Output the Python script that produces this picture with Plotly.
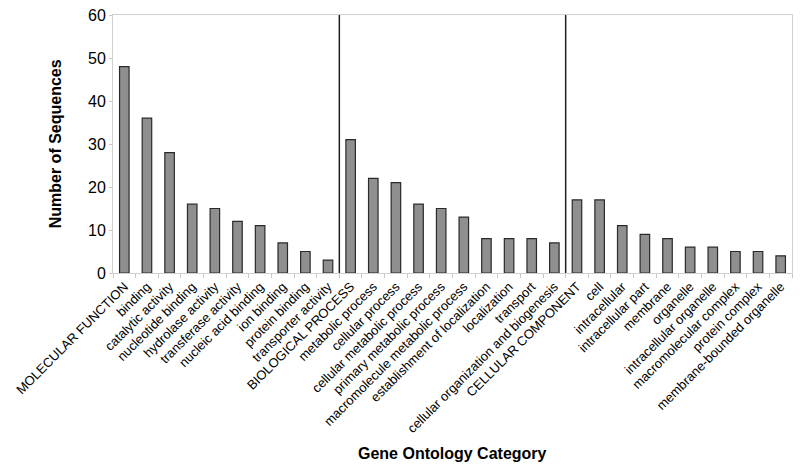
import plotly.graph_objects as go

categories = [
    "MOLECULAR FUNCTION", "binding", "catalytic activity", "nucleotide binding",
    "hydrolase activity", "transferase activity", "nucleic acid binding",
    "ion binding", "protein binding", "transporter activity",
    "BIOLOGICAL PROCESS", "metabolic process", "cellular process",
    "cellular metabolic process", "primary metabolic process",
    "macromolecule metabolic process", "establishment of localization",
    "localization", "transport", "cellular organization and biogenesis",
    "CELLULAR COMPONENT", "cell", "intracellular", "intracellular part",
    "membrane", "organelle", "intracellular organelle",
    "macromolecular complex", "protein complex", "membrane-bounded organelle",
]
values = [48, 36, 28, 16, 15, 12, 11, 7, 5, 3,
          31, 22, 21, 16, 15, 13, 8, 8, 8, 7,
          17, 17, 11, 9, 8, 6, 6, 5, 5, 4]
separators = [9.5, 19.5]

fig = go.Figure(go.Bar(
    x=categories, y=values,
    marker=dict(color="#8f8f8f", line=dict(color="#2a2a2a", width=1.2)),
))

for s in separators:
    fig.add_shape(type="line", xref="x", yref="y", x0=s, x1=s, y0=0, y1=60,
                  line=dict(color="#222222", width=1.5))

fig.update_layout(
    width=800, height=472,
    margin=dict(l=113, r=8, t=15, b=199),
    plot_bgcolor="white", paper_bgcolor="white",
    bargap=0.58, showlegend=False,
    font=dict(family="Liberation Sans, Arial, sans-serif", color="#000000"),
)
fig.update_xaxes(
    type="category", tickangle=-45, tickfont=dict(size=13),
    showline=True, linecolor="#d0d0d0", mirror=True, linewidth=1,
    ticks="outside", tickson="boundaries", ticklen=4, tickcolor="#c8c8c8",
    showgrid=False, range=[-0.5, 29.5], automargin=False,
    ticklabeloverflow="allow",
)
fig.update_yaxes(
    range=[0, 60], dtick=10, tickfont=dict(size=16),
    showline=True, linecolor="#d0d0d0", mirror=True, linewidth=1,
    ticks="outside", ticklen=3, tickcolor="#c8c8c8",
    showgrid=False, zeroline=False, automargin=False,
    ticklabeloverflow="allow",
)
fig.add_annotation(text="<b>Number of Sequences</b>", xref="paper", yref="paper",
                   x=-0.085, y=0.5, xanchor="center", yanchor="middle",
                   textangle=-90, showarrow=False, font=dict(size=16))
fig.add_annotation(text="<b>Gene Ontology Category</b>", xref="paper", yref="paper",
                   x=0.5, y=-0.70, xanchor="center", yanchor="middle",
                   showarrow=False, font=dict(size=16))

fig.write_html("out.html", config={"displayModeBar": False},
               post_script="document.body.style.margin='0';document.body.style.overflow='hidden';")
